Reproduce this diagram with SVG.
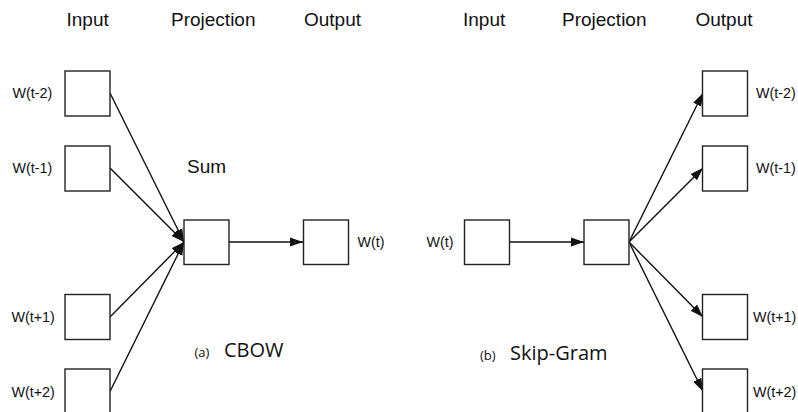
<svg xmlns="http://www.w3.org/2000/svg" width="798" height="412" viewBox="0 0 798 412">
<style>
.box{fill:#fff;stroke:#222;stroke-width:1.4}
.hdr{font-family:"Liberation Sans",Arial,sans-serif;font-size:19px;fill:#111}
.lbl{font-family:"Liberation Sans",Arial,sans-serif;font-size:14.3px;fill:#111}
.cap{font-family:"Open Sans",sans-serif;font-size:20px;fill:#111}
.sub{font-family:"Open Sans",sans-serif;font-size:13px;fill:#111}
.edge{stroke:#111;stroke-width:1.4;fill:none;marker-end:url(#ah)}
</style>
<defs>
<marker id="ah" markerUnits="userSpaceOnUse" markerWidth="14" markerHeight="10" refX="13" refY="5" orient="auto">
<path d="M0,0.5 L13,5 L0,9.5 z" fill="#111"/>
</marker>
</defs>
<rect width="798" height="412" fill="#fff"/>
<g id="headers">
<text class="hdr" x="66.5" y="26">Input</text>
<text class="hdr" x="171" y="26">Projection</text>
<text class="hdr" x="304" y="26">Output</text>
<text class="hdr" x="463" y="26">Input</text>
<text class="hdr" x="562" y="26">Projection</text>
<text class="hdr" x="695.5" y="26">Output</text>
</g>
<g id="connectors">
<line class="edge" x1="110" y1="93" x2="184" y2="242"/>
<line class="edge" x1="110" y1="168" x2="184" y2="242"/>
<line class="edge" x1="110" y1="317" x2="184" y2="242"/>
<line class="edge" x1="110" y1="391.5" x2="184" y2="242"/>
<line class="edge" x1="229" y1="242" x2="303" y2="242"/>
<line class="edge" x1="509" y1="242" x2="584" y2="242"/>
<line class="edge" x1="629" y1="242" x2="703" y2="93"/>
<line class="edge" x1="629" y1="242" x2="703" y2="168"/>
<line class="edge" x1="629" y1="242" x2="703" y2="317"/>
<line class="edge" x1="629" y1="242" x2="703" y2="391.5"/>
</g>
<g id="cbow-in-t-2"><rect class="box" x="65" y="71" width="45" height="45"/><text class="lbl" x="12.5" y="97.5">W(t-2)</text></g>
<g id="cbow-in-t-1"><rect class="box" x="65" y="146" width="45" height="45"/><text class="lbl" x="12.5" y="173">W(t-1)</text></g>
<g id="cbow-in-t+1"><rect class="box" x="65" y="294.5" width="45" height="45"/><text class="lbl" x="11.5" y="322">W(t+1)</text></g>
<g id="cbow-in-t+2"><rect class="box" x="65" y="369" width="45" height="45"/><text class="lbl" x="11.5" y="397">W(t+2)</text></g>
<g id="cbow-proj"><rect class="box" x="184" y="220" width="45" height="44.5"/><text class="hdr" x="187" y="173">Sum</text></g>
<g id="cbow-out"><rect class="box" x="303.5" y="220" width="45" height="44.5"/><text class="lbl" x="357.5" y="246.5">W(t)</text></g>
<g id="cbow-caption"><text class="sub" x="194.5" y="357">(a)</text><text class="cap" x="224" y="357">CBOW</text></g>
<g id="sg-in"><rect class="box" x="464.5" y="220" width="45" height="44.5"/><text class="lbl" x="426.5" y="246.5">W(t)</text></g>
<g id="sg-proj"><rect class="box" x="584" y="220" width="45" height="44.5"/></g>
<g id="sg-out-t-2"><rect class="box" x="702.5" y="71" width="45" height="45"/><text class="lbl" x="756" y="97.5">W(t-2)</text></g>
<g id="sg-out-t-1"><rect class="box" x="702.5" y="146" width="45" height="45"/><text class="lbl" x="756" y="173">W(t-1)</text></g>
<g id="sg-out-t+1"><rect class="box" x="702.5" y="294.5" width="45" height="45"/><text class="lbl" x="753" y="322">W(t+1)</text></g>
<g id="sg-out-t+2"><rect class="box" x="702.5" y="369" width="45" height="45"/><text class="lbl" x="753" y="397">W(t+2)</text></g>
<g id="sg-caption"><text class="sub" x="480" y="359.5">(b)</text><text class="cap" x="510" y="359.5">Skip-Gram</text></g>
</svg>
